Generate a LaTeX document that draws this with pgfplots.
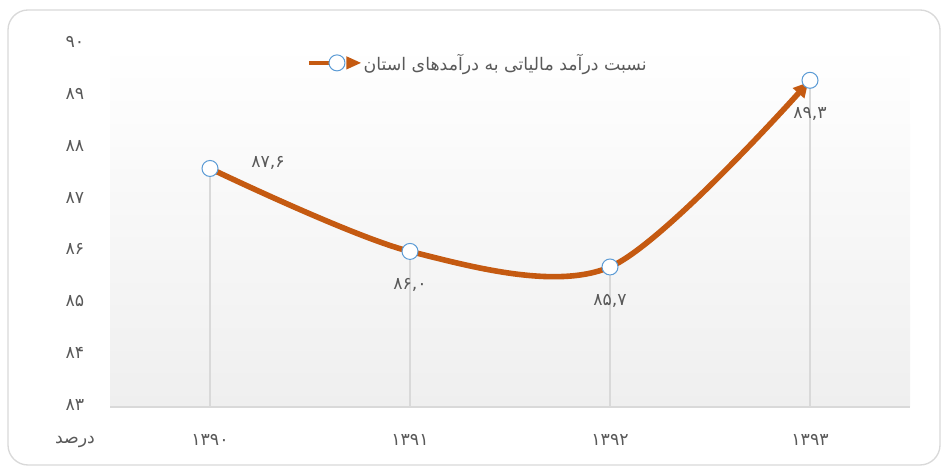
\documentclass[border=0pt]{standalone}
\usepackage{pgfplots}
\pgfplotsset{compat=1.18}
\usepackage{fontspec}
\setmainfont{DejaVu Sans}
\newfontfamily\fa[Script=Arabic]{DejaVu Sans}
\TeXXeTstate=1
\usetikzlibrary{arrows.meta}
\definecolor{lineC}{HTML}{C55A11}
\definecolor{markC}{HTML}{5B9BD5}
\definecolor{txtC}{HTML}{595959}
\definecolor{gridC}{HTML}{D9D9D9}
\definecolor{bgC}{HTML}{EFEFEF}
\begin{document}
\begin{tikzpicture}[x=0.75pt,y=0.75pt]
\path[use as bounding box] (0,0) rectangle (943,470);
\draw[gridC, line width=1pt, rounded corners=15pt] (8,5) rectangle (940,460);
\begin{axis}[
  at={(82.5pt,47.25pt)}, anchor=south west,
  scale only axis, width=600pt, height=272.25pt,
  xmin=-0.5, xmax=3.5, ymin=83, ymax=90,
  axis x line*=bottom, axis y line*=left,
  y axis line style={draw=none},
  x axis line style={draw=gridC, line width=1.5pt, -},
  major tick length=0pt,
  axis background/.style={top color=white, bottom color=bgC},
  xtick={0,1,2,3},
  xticklabels={۱۳۹۰,۱۳۹۱,۱۳۹۲,۱۳۹۳},
  ytick={83,84,85,86,87,88,89,90},
  yticklabels={۸۳,۸۴,۸۵,۸۶,۸۷,۸۸,۸۹,۹۰},
  yticklabel style={anchor=center, xshift=-26.25pt, yshift=1.5pt, font=\fa\fontsize{13}{15}\selectfont, text=txtC},
  xticklabel style={anchor=center, yshift=-24.75pt, font=\fa\fontsize{13}{15}\selectfont, text=txtC},
  legend style={draw=none, fill=none, at={(0.46,0.948)}, anchor=center,
    font=\fa\fontsize{13}{15}\selectfont, text=txtC},
  legend image code/.code={
    \path[-, shorten >=0pt, draw=lineC, line width=3.4pt] (0pt,0pt) -- (20pt,0pt);
    \path[-, shorten >=0pt, draw=markC, fill=white, line width=0.75pt] (21pt,0pt) circle (6pt);
    \path[-, shorten >=0pt, draw=none, fill=lineC] (28pt,5pt) -- (39pt,0pt) -- (28pt,-5pt) -- cycle;
  },
]
\addplot[ycomb, draw=gridC, line width=1.3pt, mark=none, forget plot]
  coordinates {(0,87.6) (1,86.0) (2,85.7) (3,89.3)};
\addplot[lineC, line width=4.2pt, smooth, tension=0.5,
  -{Triangle[length=11pt,width=11pt]}, shorten >=2pt,
  mark=*, mark size=6pt,
  mark options={fill=white, draw=markC, line width=0.75pt, solid}]
  coordinates {(0,87.6) (1,86.0) (2,85.7) (3,89.3)};
\addlegendentry{\beginR نسبت درآمد مالیاتی به درآمدهای استان\endR}
\addplot[draw=none, mark=none, forget plot, nodes near coords, point meta=explicit symbolic,
  nodes near coords style={anchor=center, xshift=43.5pt, yshift=3.75pt, font=\fa\fontsize{13}{15}\selectfont, text=txtC}]
  coordinates {(0,87.6) [۸۷,۶]};
\addplot[draw=none, mark=none, forget plot, nodes near coords, point meta=explicit symbolic,
  nodes near coords style={anchor=center, yshift=-25.5pt, font=\fa\fontsize{13}{15}\selectfont, text=txtC}]
  coordinates {(1,86.0) [۸۶,۰] (2,85.7) [۸۵,۷] (3,89.3) [۸۹,۳]};
\end{axis}
\node[font=\fa\fontsize{13}{15}\selectfont, text=txtC] at (75,28) {\beginR درصد\endR};
\end{tikzpicture}
\end{document}
